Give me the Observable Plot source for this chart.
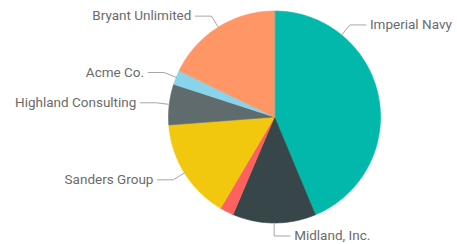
<!DOCTYPE html>
<html><head><meta charset="utf-8">
<script src="https://cdn.jsdelivr.net/npm/d3@7"></script>
<script src="https://cdn.jsdelivr.net/npm/@observablehq/plot@0.6"></script>
<style>body{margin:0;background:#fff;}</style>
</head><body><div id="chart"></div>
<script>
const categories = ["Imperial Navy", "Midland, Inc.", "Other", "Sanders Group", "Highland Consulting", "Acme Co.", "Bryant Unlimited"];
const values = [43.7, 12.7, 2.1, 15.3, 6.2, 2.2, 17.8];
const labels = ["Imperial Navy", "Midland, Inc.", "", "Sanders Group", "Highland Consulting", "Acme Co.", "Bryant Unlimited"];
const colors = ["#01B8AA", "#374649", "#FD625E", "#F2C80F", "#5F6B6D", "#8AD4EB", "#FE9666"];

const W = 457, H = 244, cx = 274, cy = 116.5, R = 106;
const xDomain = [-cx / R, (W - cx) / R], yDomain = [-(H - cy) / R, cy / R];
const total = d3.sum(values);
let acc = 0;
const slices = categories.map((c, i) => {
  const a0 = acc / total * 2 * Math.PI; acc += values[i];
  const a1 = acc / total * 2 * Math.PI;
  return {c, i, a0, a1, label: labels[i]};
});
const pt = (a, r) => ({x: r * Math.sin(a), y: r * Math.cos(a)});
const poly = [];
for (const s of slices) {
  poly.push({...pt(0, 0), c: s.c});
  const n = Math.max(2, Math.ceil((s.a1 - s.a0) / (Math.PI / 180)));
  for (let k = 0; k <= n; k++) poly.push({...pt(s.a0 + (s.a1 - s.a0) * k / n, 1), c: s.c});
}
// leader lines: the largest slice's label sits nearer its start
const leaders = [], texts = [];
for (const s of slices) {
  if (!s.label) continue;
  const frac = s.i === 0 ? 0.25 : 0.5;
  const a = s.a0 + (s.a1 - s.a0) * frac;
  const p0 = pt(a, 1), p1 = pt(a, 1 + 13 / R);
  const side = Math.sin(a) > -0.08 ? 1 : -1;
  const p2 = {x: p1.x + side * 16 / R, y: p1.y};
  leaders.push({...p0, c: s.c}, {...p1, c: s.c}, {...p2, c: s.c});
  texts.push({...p2, label: s.label, side});
}
const chart = Plot.plot({
  width: W, height: H, margin: 0,
  x: {domain: xDomain, axis: null},
  y: {domain: yDomain, axis: null},
  color: {domain: categories, range: colors},
  style: {fontFamily: "Roboto, sans-serif", background: "#fff"},
  marks: [
    Plot.line(poly, {x: "x", y: "y", z: "c", fill: "c", stroke: "c", strokeWidth: 0.6, curve: "linear-closed"}),
    Plot.line(leaders, {x: "x", y: "y", z: "c", stroke: "#a6a6a6", strokeWidth: 1}),
    Plot.text(texts.filter(d => d.side > 0), {x: "x", y: "y", text: "label", textAnchor: "start", dx: 4, fill: "#6b6b6b", fontSize: 13.5}),
    Plot.text(texts.filter(d => d.side < 0), {x: "x", y: "y", text: "label", textAnchor: "end", dx: -4, fill: "#6b6b6b", fontSize: 13.5})
  ]
});
document.getElementById("chart").appendChild(chart);
</script>
</body></html>
